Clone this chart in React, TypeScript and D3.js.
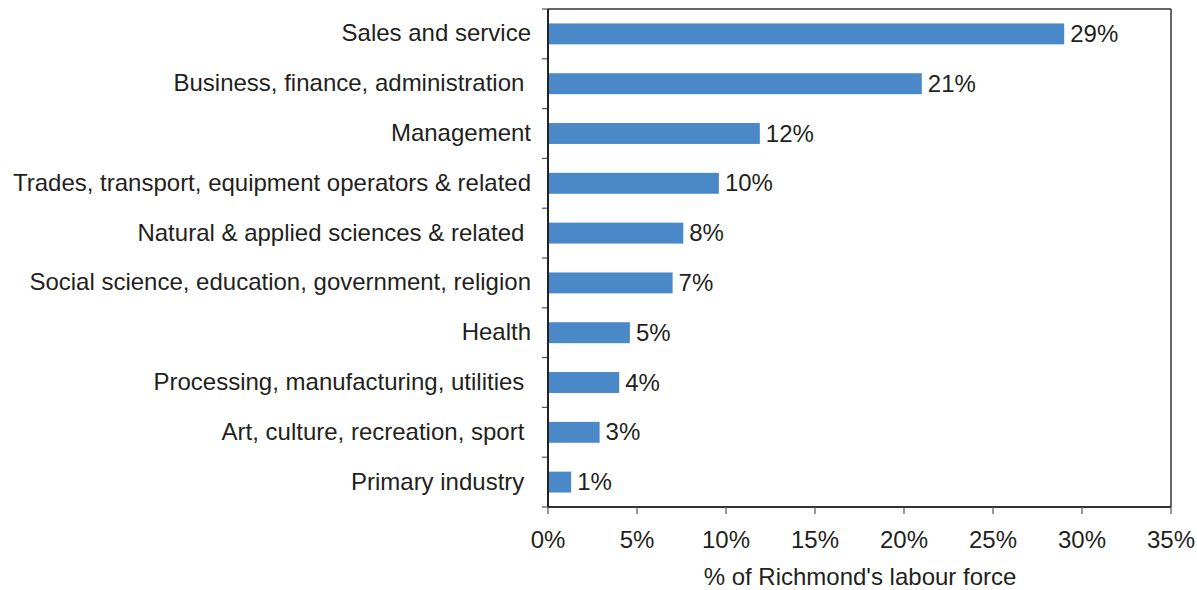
import React from "react";
import * as d3 from "d3";

const categories = [
  "Sales and service",
  "Business, finance, administration ",
  "Management",
  "Trades, transport, equipment operators & related",
  "Natural & applied sciences & related ",
  "Social science, education, government, religion",
  "Health",
  "Processing, manufacturing, utilities ",
  "Art, culture, recreation, sport ",
  "Primary industry ",
];
const values = [29.0, 21.0, 11.9, 9.6, 7.6, 7.0, 4.6, 4.0, 2.9, 1.3];
const valueLabels = ["29%", "21%", "12%", "10%", "8%", "7%", "5%", "4%", "3%", "1%"];
const xTicks = [0, 5, 10, 15, 20, 25, 30, 35];
const xTitle = "% of Richmond's labour force";

const W = 1197;
const H = 590;
const m = { left: 548, right: 1171, top: 9, bottom: 507 };
const FONT = "'Liberation Sans', Arial, sans-serif";
const TEXT = "#231f20";
const FS = 24;

export default function App() {
  const x = d3.scaleLinear().domain([0, 35]).range([m.left, m.right]);
  const y = d3
    .scaleBand<string>()
    .domain(categories)
    .range([m.top, m.bottom])
    .paddingInner(0.58)
    .paddingOuter(0.29);
  const bandStep = (m.bottom - m.top) / categories.length;
  const boundaries = d3.range(categories.length + 1).map((i) => m.top + i * bandStep);

  return (
    <svg
      width={W}
      height={H}
      style={{ position: "absolute", left: 0, top: 0, background: "#fff" }}
      fontFamily={FONT}
    >
      {/* frame */}
      <line x1={m.left} x2={m.right} y1={m.top} y2={m.top} stroke="#333" strokeWidth={1.5} />
      <line x1={m.right} x2={m.right} y1={m.top} y2={m.bottom} stroke="#333" strokeWidth={1.5} />
      {/* bars */}
      {categories.map((c, i) => (
        <rect
          key={c}
          x={x(0)}
          y={y(c)}
          width={x(values[i]) - x(0)}
          height={y.bandwidth()}
          fill="#4a88c7"
        />
      ))}
      {/* value labels */}
      {categories.map((c, i) => (
        <text
          key={"v" + c}
          x={x(values[i]) + 6}
          y={(y(c) as number) + y.bandwidth() / 2 + 8}
          fontSize={FS}
          fill={TEXT}
        >
          {valueLabels[i]}
        </text>
      ))}
      {/* category labels */}
      {categories.map((c) => (
        <text
          key={"c" + c}
          x={531}
          y={(y(c) as number) + y.bandwidth() / 2 + 7.5}
          textAnchor="end"
          fontSize={FS}
          fill={TEXT}
          style={{ whiteSpace: "pre" }}
        >
          {c}
        </text>
      ))}
      {/* y axis */}
      {boundaries.map((b, i) => (
        <line key={"yt" + i} x1={m.left - 6} x2={m.left} y1={b} y2={b} stroke="#555" strokeWidth={1.2} />
      ))}
      <line x1={m.left} x2={m.left} y1={m.top} y2={m.bottom} stroke="#222" strokeWidth={2} />
      {/* x axis */}
      <line x1={m.left} x2={m.right} y1={m.bottom} y2={m.bottom} stroke="#333" strokeWidth={2} />
      {xTicks.map((t) => (
        <g key={"xt" + t}>
          <line x1={x(t)} x2={x(t)} y1={m.bottom} y2={m.bottom + 7} stroke="#555" strokeWidth={1.2} />
          <text x={x(t)} y={548} textAnchor="middle" fontSize={FS} fill={TEXT}>
            {t}%
          </text>
        </g>
      ))}
      <text x={860} y={585} textAnchor="middle" fontSize={FS} fill={TEXT}>
        {xTitle}
      </text>
    </svg>
  );
}
